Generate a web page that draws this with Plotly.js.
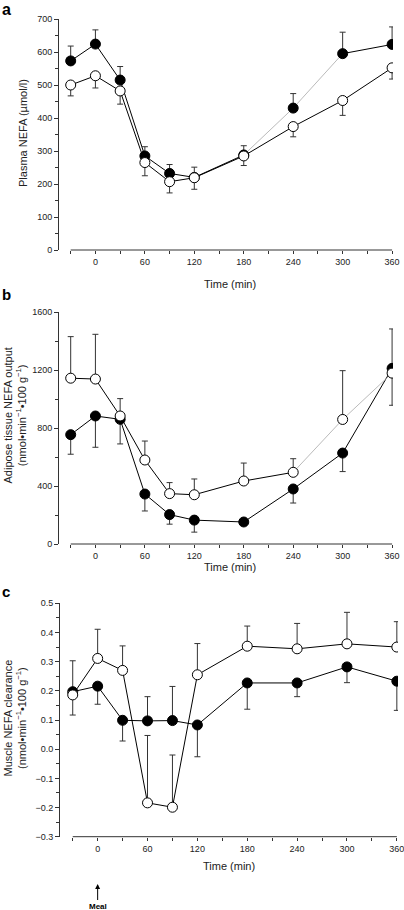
<!DOCTYPE html>
<html>
<head>
<meta charset="utf-8">
<script src="https://cdn.plot.ly/plotly-3.0.1.min.js"></script>
<style>html,body{margin:0;padding:0;background:#fff;}#chart{width:404px;height:910px;}</style>
</head>
<body>
<div id="chart"></div>
<script>
// ---- data ----
const time = [-30, 0, 30, 60, 90, 120, 180, 240, 300, 360];
const xTickVals = [0, 60, 120, 180, 240, 300, 360];

// Panel a: Plasma NEFA (µmol/l)
const aFilled     = [573, 624, 515, 285, 232, 220, 288, 430, 595, 623];
const aFilledUp   = [45, 43, 41, 28, 27, 31, 28, 44, 65, 53];
const aFilledDown = [0, 0, 0, 0, 0, 0, 0, 0, 0, 0];
const aOpen       = [500, 528, 482, 265, 207, 219, 285, 374, 453, 552];
const aOpenUp     = [0, 0, 0, 0, 0, 0, 0, 0, 0, 0];
const aOpenDown   = [33, 37, 40, 40, 34, 35, 29, 31, 45, 34];

// Panel b: Adipose tissue NEFA output
const bFilled     = [755, 884, 861, 345, 203, 165, 152, 380, 628, 1213];
const bFilledUp   = [0, 0, 0, 0, 0, 0, 0, 0, 0, 272];
const bFilledDown = [135, 216, 170, 117, 66, 83, 20, 97, 128, 0];
const bOpen       = [1145, 1139, 884, 580, 348, 340, 435, 495, 860, 1180];
const bOpenUp     = [287, 309, 120, 131, 76, 109, 124, 94, 337, 0];
const bOpenDown   = [0, 0, 0, 0, 0, 0, 0, 0, 0, 222];

// Panel c: Muscle NEFA clearance
const cFilled     = [0.197, 0.216, 0.099, 0.097, 0.098, 0.083, 0.227, 0.227, 0.282, 0.233];
const cFilledUp   = [0.106, 0, 0, 0.083, 0.117, 0, 0, 0, 0, 0];
const cFilledDown = [0, 0.062, 0.071, 0, 0, 0.109, 0.090, 0.047, 0.054, 0.100];
const cOpen       = [0.186, 0.311, 0.270, -0.184, -0.199, 0.255, 0.353, 0.344, 0.361, 0.350];
const cOpenUp     = [0, 0.100, 0.084, 0.231, 0.179, 0.107, 0.069, 0.087, 0.108, 0.087];
const cOpenDown   = [0.069, 0, 0, 0, 0, 0, 0, 0, 0, 0];

// segments (start index) drawn as thin grey lines in the original
const aFilledGray = [6, 7];
const bOpenGray   = [7, 8];

// ---- helpers ----
const FONT = 'Liberation Sans, Arial, sans-serif';
function blackLine(y, gray) {
  const xs = [], ys = [];
  for (let i = 0; i < y.length; i++) {
    xs.push(time[i]); ys.push(y[i]);
    if (i < y.length - 1 && gray.includes(i)) { xs.push(null); ys.push(null); }
  }
  return {xs, ys};
}
function grayLine(y, gray) {
  const xs = [], ys = [];
  gray.forEach(i => { xs.push(time[i], time[i + 1], null); ys.push(y[i], y[i + 1], null); });
  return {xs, ys};
}
function seriesTraces(y, gray, xa, ya) {
  const out = [];
  const b = blackLine(y, gray);
  out.push({x: b.xs, y: b.ys, xaxis: xa, yaxis: ya, mode: 'lines', connectgaps: false,
            line: {color: '#000', width: 1}, hoverinfo: 'skip', showlegend: false});
  if (gray.length) {
    const g = grayLine(y, gray);
    out.push({x: g.xs, y: g.ys, xaxis: xa, yaxis: ya, mode: 'lines', connectgaps: false,
              line: {color: '#a8a8a8', width: 0.8}, hoverinfo: 'skip', showlegend: false});
  }
  return out;
}
function markerTrace(y, up, down, filled, xa, ya) {
  return {x: time, y: y, xaxis: xa, yaxis: ya, mode: 'markers', showlegend: false,
          marker: {size: 10, color: filled ? '#000' : '#fff', line: {color: '#000', width: 1}},
          error_y: {type: 'data', symmetric: false, array: up, arrayminus: down,
                    color: '#333', thickness: 1, width: 3}};
}
function panel(fy, fu, fd, fg, oy, ou, od, og, xa, ya) {
  return [].concat(
    seriesTraces(fy, fg, xa, ya),
    seriesTraces(oy, og, xa, ya),
    [markerTrace(fy, fu, fd, true, xa, ya), markerTrace(oy, ou, od, false, xa, ya)]
  );
}

const data = [].concat(
  panel(aFilled, aFilledUp, aFilledDown, aFilledGray, aOpen, aOpenUp, aOpenDown, [], 'x', 'y'),
  panel(bFilled, bFilledUp, bFilledDown, [], bOpen, bOpenUp, bOpenDown, bOpenGray, 'x2', 'y2'),
  panel(cFilled, cFilledUp, cFilledDown, [], cOpen, cOpenUp, cOpenDown, [], 'x3', 'y3')
);

const W = 404, H = 910;
const px = v => v / W;
const py = v => 1 - v / H;

function xAxis(dom, rng, anchor) {
  return {domain: dom, range: rng, anchor: anchor, showgrid: false, zeroline: false, showline: false,
          tickmode: 'array', tickvals: xTickVals, ticks: 'outside', ticklen: 3, tickwidth: 1, tickcolor: '#333',
          ticklabeloverflow: 'allow',
          minor: {tickmode: 'array', tickvals: [-30, 30, 90, 150, 210, 270, 330], ticks: 'outside', ticklen: 3, tickwidth: 1, tickcolor: '#333'},
          tickfont: {family: FONT, size: 9, color: '#222'}, fixedrange: true};
}
function yAxis(dom, rng, dtick, minor, anchor, fmt) {
  const a = {domain: dom, range: rng, anchor: anchor, showgrid: false, zeroline: false,
          showline: true, linecolor: '#333', linewidth: 1,
          tick0: 0, dtick: dtick, ticks: 'outside', ticklen: 4, tickwidth: 1, tickcolor: '#333',
          ticklabeloverflow: 'allow',
          minor: {dtick: minor, ticks: 'outside', ticklen: 3, tickwidth: 1, tickcolor: '#333'},
          tickfont: {family: FONT, size: 9, color: '#222'}, fixedrange: true};
  if (fmt) a.tickformat = fmt;
  return a;
}

const xdomAB = [px(59), px(393)];
const xdomC = [px(60), px(398)];
const titleFont = {family: FONT, size: 11, color: '#222'};
const letterFont = {family: FONT, size: 15, color: '#000'};
const layout = {
  width: W, height: H,
  margin: {l: 0, r: 0, t: 0, b: 0},
  paper_bgcolor: '#fff', plot_bgcolor: 'rgba(0,0,0,0)',
  showlegend: false,
  font: {family: FONT, color: '#222'},
  xaxis:  xAxis(xdomAB, [-44.2, 361.1], 'y'),
  yaxis:  yAxis([py(250), py(19)], [0, 700], 100, 50, 'x'),
  xaxis2: xAxis(xdomAB, [-44.2, 361.1], 'y2'),
  yaxis2: yAxis([py(544), py(312.3)], [0, 1600], 400, 200, 'x2'),
  xaxis3: xAxis(xdomC, [-45.3, 361.4], 'y3'),
  yaxis3: yAxis([py(836.7), py(603.3)], [-0.3, 0.5], 0.1, 0.05, 'x3', '.1f'),
  shapes: [
    {type: 'line', xref: 'x', yref: 'y domain', x0: -30, x1: 360, y0: 0, y1: 0, line: {color: '#333', width: 1}},
    {type: 'line', xref: 'x2', yref: 'y2 domain', x0: -30, x1: 360, y0: 0, y1: 0, line: {color: '#333', width: 1}},
    {type: 'line', xref: 'x3', yref: 'y3 domain', x0: -30, x1: 360, y0: 0, y1: 0, line: {color: '#333', width: 1}}
  ],
  annotations: [
    {text: '<b>a</b>', xref: 'paper', yref: 'paper', x: px(1), y: 1, xanchor: 'left', yanchor: 'top', showarrow: false, borderpad: 0, font: {family: FONT, size: 16, color: '#000'}},
    {text: '<b>b</b>', xref: 'paper', yref: 'paper', x: px(1), y: py(295), xanchor: 'left', yanchor: 'middle', showarrow: false, borderpad: 0, font: letterFont},
    {text: '<b>c</b>', xref: 'paper', yref: 'paper', x: px(1), y: py(591), xanchor: 'left', yanchor: 'middle', showarrow: false, borderpad: 0, font: letterFont},
    {text: 'Plasma NEFA (µmol/l)', xref: 'paper', yref: 'paper', x: px(23), y: py(133), textangle: -90, xanchor: 'center', yanchor: 'middle', showarrow: false, font: titleFont},
    {text: 'Adipose tissue NEFA output<br>(nmol•min<sup>−1</sup>•100 g<sup>−1</sup>)', xref: 'paper', yref: 'paper', x: px(14.5), y: py(416), textangle: -90, xanchor: 'center', yanchor: 'middle', showarrow: false, font: titleFont},
    {text: 'Muscle NEFA clearance<br>(nmol•min<sup>−1</sup>•100 g<sup>−1</sup>)', xref: 'paper', yref: 'paper', x: px(14.5), y: py(718), textangle: -90, xanchor: 'center', yanchor: 'middle', showarrow: false, font: titleFont},
    {text: 'Time (min)', xref: 'paper', yref: 'paper', x: px(230), y: py(284), xanchor: 'center', yanchor: 'middle', showarrow: false, font: titleFont},
    {text: 'Time (min)', xref: 'paper', yref: 'paper', x: px(230), y: py(567), xanchor: 'center', yanchor: 'middle', showarrow: false, font: titleFont},
    {text: 'Time (min)', xref: 'paper', yref: 'paper', x: px(229), y: py(866), xanchor: 'center', yanchor: 'middle', showarrow: false, font: titleFont},
    {text: '<b>Meal</b>', xref: 'x3', yref: 'paper', x: 0, y: py(884), showarrow: true, ax: 0, ay: 22, arrowhead: 2, arrowsize: 1, arrowwidth: 1, arrowcolor: '#000', font: {family: FONT, size: 8, color: '#000'}}
  ]
};

Plotly.newPlot('chart', data, layout, {displayModeBar: false, staticPlot: true});
</script>
</body>
</html>
